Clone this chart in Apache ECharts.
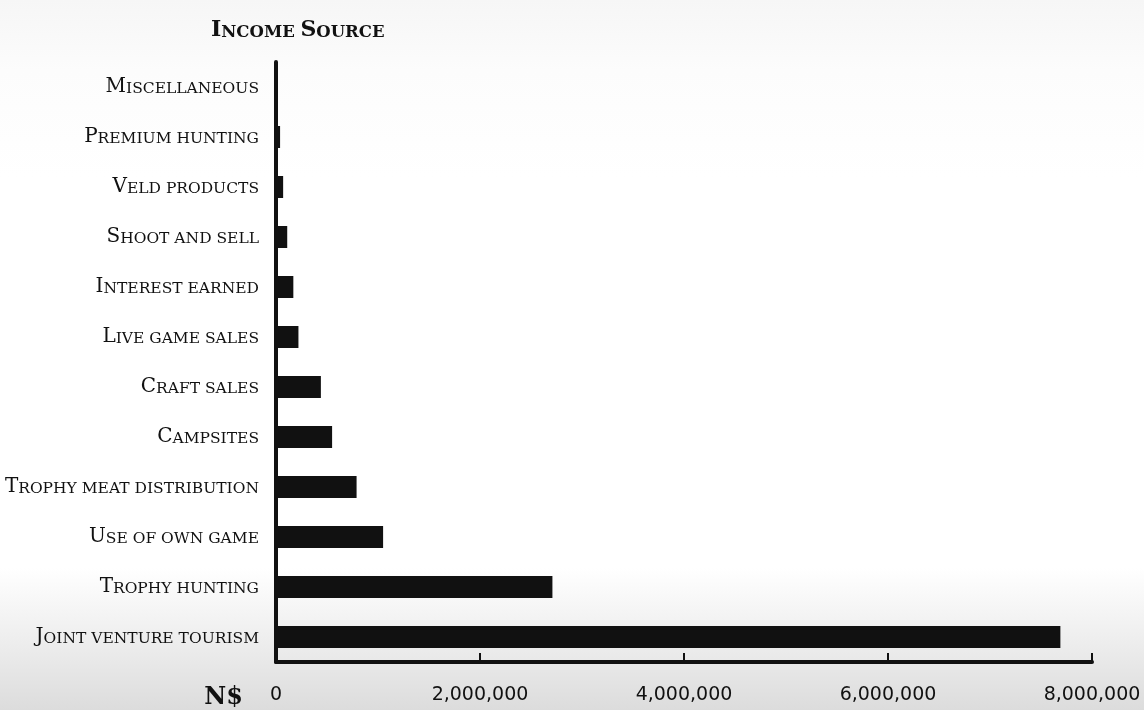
<!DOCTYPE html>
<html>
<head>
<meta charset="utf-8">
<script src="https://cdn.jsdelivr.net/npm/echarts@6/dist/echarts.min.js"></script>
<style>
  html, body { margin: 0; padding: 0; background: #fff; }
  #chart { width: 1144px; height: 710px; }
</style>
</head>
<body>
<div id="chart"></div>
<script>
// ---- data ----
const categories = [
  'Miscellaneous',
  'Premium hunting',
  'Veld products',
  'Shoot and sell',
  'Interest earned',
  'Live game sales',
  'Craft sales',
  'Campsites',
  'Trophy meat distribution',
  'Use of own game',
  'Trophy hunting',
  'Joint venture tourism'
];
const incomeNS = [10000, 40000, 70000, 110000, 170000, 220000, 440000, 550000, 790000, 1050000, 2710000, 7690000];
const xTicks = [0, 2000000, 4000000, 6000000, 8000000];
const yTitle = 'Income Source';
const xUnit = 'N$';

// small-caps helper: first letter of each capitalised word big, the rest small uppercase
function smallCaps(str, big, small) {
  return str.split(' ').map(function (w) {
    const first = w.charAt(0);
    const rest = w.slice(1).toUpperCase();
    if (first === first.toUpperCase() && /[A-Za-z]/.test(first)) {
      return '{' + big + '|' + first + '}' + (rest ? '{' + small + '|' + rest + '}' : '');
    }
    return '{' + small + '|' + w.toUpperCase() + '}';
  }).join('{' + small + '| }');
}
function commas(v) {
  return String(v).replace(/\B(?=(\d{3})+(?!\d))/g, ',');
}

const chart = echarts.init(document.getElementById('chart'));
const serif = 'DejaVu Serif';
chart.setOption({
  backgroundColor: {
    type: 'linear', x: 0, y: 0, x2: 0, y2: 1,
    colorStops: [
      { offset: 0, color: '#f6f6f6' },
      { offset: 0.1, color: '#fcfcfc' },
      { offset: 0.25, color: '#ffffff' },
      { offset: 0.8, color: '#ffffff' },
      { offset: 0.9, color: '#eeeeee' },
      { offset: 1, color: '#dcdcdc' }
    ]
  },
  animation: false,
  title: {
    text: smallCaps(yTitle, 'tb', 'ts'),
    left: 206,
    top: 14,
    textStyle: {
      rich: {
        tb: { fontFamily: serif, fontSize: 22, color: '#111', verticalAlign: 'bottom' },
        ts: { fontFamily: serif, fontSize: 16.5, color: '#111', verticalAlign: 'bottom' }
      }
    }
  },
  grid: { left: 276, right: 52, top: 62, height: 600, containLabel: false },
  xAxis: {
    type: 'value',
    min: xTicks[0],
    max: xTicks[xTicks.length - 1],
    interval: xTicks[1] - xTicks[0],
    name: xUnit,
    nameLocation: 'start',
    nameGap: 33,
    nameTextStyle: {
      fontFamily: serif, fontSize: 24, fontWeight: 'bold', color: '#111',
      verticalAlign: 'top', padding: [24, 0, 0, 0]
    },
    axisLine: { show: true, lineStyle: { color: '#111', width: 4 } },
    axisTick: { show: true, inside: true, length: 9, lineStyle: { color: '#111', width: 2 } },
    splitLine: { show: false },
    axisLabel: {
      margin: 24,
      fontFamily: 'DejaVu Sans', fontSize: 19, color: '#111',
      formatter: function (v) { return commas(v); }
    }
  },
  yAxis: {
    type: 'category',
    data: categories,
    inverse: true,
    axisLine: { show: true, lineStyle: { color: '#111', width: 4 } },
    axisTick: { show: false },
    axisLabel: {
      margin: 17,
      formatter: function (v) { return smallCaps(v, 'b', 's'); },
      rich: {
        b: { fontFamily: serif, fontSize: 20, color: '#111', verticalAlign: 'bottom' },
        s: { fontFamily: serif, fontSize: 15.5, color: '#111', verticalAlign: 'bottom' }
      }
    }
  },
  series: [{
    type: 'bar',
    data: incomeNS,
    barWidth: 22,
    itemStyle: { color: '#111' }
  }]
});
</script>
</body>
</html>
